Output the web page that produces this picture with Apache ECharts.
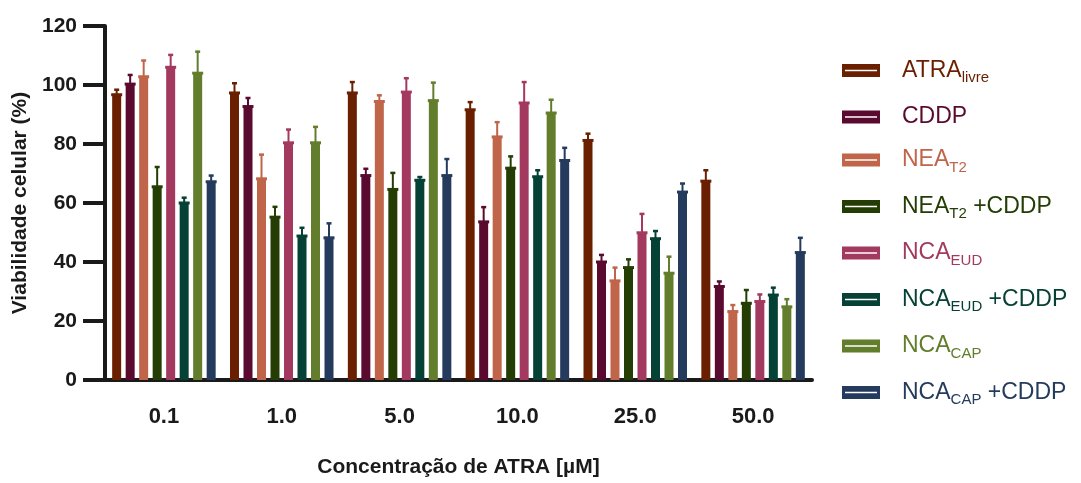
<!DOCTYPE html>
<html>
<head>
<meta charset="utf-8">
<script src="https://cdn.jsdelivr.net/npm/echarts@6/dist/echarts.min.js"></script>
<style>
  html, body { margin: 0; padding: 0; background: #fff; }
  #main { width: 1081px; height: 483px; }
</style>
</head>
<body>
<div id="main"></div>
<script>
var categories = ['0.1', '1.0', '5.0', '10.0', '25.0', '50.0'];

// legend text split in main / subscript / tail
var legendMain = ['ATRA', 'CDDP', 'NEA', 'NEA', 'NCA', 'NCA', 'NCA', 'NCA'];
var legendSub = ['livre', '', 'T2', 'T2', 'EUD', 'EUD', 'CAP', 'CAP'];
var legendTail = ['', '', '', ' +CDDP', '', ' +CDDP', '', ' +CDDP'];
var colors = ['#6a1f00', '#5a0a2f', '#c0654a', '#243d05', '#a3395f', '#064135', '#627d2c', '#253b5d'];

// mean viability (%)
var atraLivre = [96.7, 97.3, 97.3, 91.6, 81.2, 67.4];
var cddp = [100.3, 92.7, 69.3, 53.6, 40.0, 31.7];
var neaT2 = [102.8, 68.2, 94.4, 82.4, 33.6, 23.2];
var neaT2Cddp = [65.5, 55.2, 64.6, 71.8, 38.1, 26.0];
var ncaEud = [106.0, 80.4, 97.6, 93.9, 49.9, 26.6];
var ncaEudCddp = [60.0, 48.8, 67.7, 68.9, 47.9, 28.8];
var ncaCap = [104.0, 80.4, 94.7, 90.5, 36.2, 24.8];
var ncaCapCddp = [67.2, 48.2, 69.3, 74.4, 63.7, 43.2];

// upper error (sd)
var atraLivreErr = [1.7, 3.3, 3.7, 2.6, 2.3, 3.7];
var cddpErr = [3.1, 2.9, 2.3, 5.0, 2.4, 1.7];
var neaT2Err = [5.5, 8.2, 2.1, 5.0, 4.5, 2.2];
var neaT2CddpErr = [6.7, 3.5, 5.6, 4.0, 2.8, 4.5];
var ncaEudErr = [4.2, 4.5, 4.7, 7.1, 6.4, 2.4];
var ncaEudCddpErr = [1.8, 2.8, 1.1, 2.2, 2.6, 2.5];
var ncaCapErr = [7.3, 5.4, 6.1, 4.5, 5.6, 2.6];
var ncaCapCddpErr = [2.1, 4.9, 5.6, 4.3, 2.9, 5.0];

var means = [atraLivre, cddp, neaT2, neaT2Cddp, ncaEud, ncaEudCddp, ncaCap, ncaCapCddp];
var errs = [atraLivreErr, cddpErr, neaT2Err, neaT2CddpErr, ncaEudErr, ncaEudCddpErr, ncaCapErr, ncaCapCddpErr];

var FONT = 'Liberation Sans, Arial, sans-serif';
var BAR_W = 9;
var BAR_STEP = 13.5;

var names = legendMain.map(function (m, i) { return m + legendSub[i] + legendTail[i]; });

var myChart = echarts.init(document.getElementById('main'));

function errorRender(seriesIdx) {
  return function (params, api) {
    var base = api.coord([api.value(0), api.value(1)]);
    var top = api.coord([api.value(0), api.value(2)]);
    var x = base[0] + (seriesIdx - 3.5) * BAR_STEP;
    var style = { stroke: colors[seriesIdx], lineWidth: 2 };
    return {
      type: 'group',
      children: [
        { type: 'line', shape: { x1: x, y1: base[1], x2: x, y2: top[1] }, style: style },
        { type: 'line', shape: { x1: x - 2.5, y1: top[1], x2: x + 2.5, y2: top[1] }, style: { stroke: colors[seriesIdx], lineWidth: 2.5 } },
        { type: 'line', shape: { x1: x - 5.5, y1: base[1], x2: x + 5.5, y2: base[1] }, style: { stroke: colors[seriesIdx], lineWidth: 3 } }
      ]
    };
  };
}

var series = [];
names.forEach(function (name, i) {
  series.push({
    name: name,
    type: 'bar',
    barWidth: BAR_W,
    barGap: '50%',
    itemStyle: { color: colors[i] },
    data: means[i],
    z: 2
  });
});
names.forEach(function (name, i) {
  series.push({
    name: name,
    type: 'custom',
    renderItem: errorRender(i),
    z: 3,
    data: means[i].map(function (v, j) { return [j, v, v + errs[i][j]]; })
  });
});

var legendData = names.map(function (name, i) {
  return {
    name: name,
    itemStyle: { color: colors[i] },
    textStyle: {
      color: colors[i],
      rich: {
        m: { fontSize: 23, color: colors[i], fontFamily: FONT, lineHeight: 30 },
        s: { fontSize: 15, color: colors[i], fontFamily: FONT, verticalAlign: 'bottom', lineHeight: 30 },
        g: { width: 17 }
      }
    }
  };
});

var option = {
  animation: false,
  color: colors,
  grid: { left: 105, right: 269, top: 26, bottom: 102, containLabel: false },
  legend: {
    orient: 'vertical',
    left: 837,
    top: 54,
    itemWidth: 38,
    itemHeight: 13,
    itemGap: 20,
    icon: 'path://M0,0L38,0L38,13L0,13Z M3,5.8L3,7.2L35,7.2L35,5.8Z',
    selectedMode: false,
    data: legendData,
    formatter: function (name) {
      var i = names.indexOf(name);
      var s = '{g|}{m|' + legendMain[i] + '}';
      if (legendSub[i]) s += '{s|' + legendSub[i] + '}';
      if (legendTail[i]) s += '{m|' + legendTail[i] + '}';
      return s;
    }
  },
  xAxis: {
    type: 'category',
    data: categories,
    name: 'Concentração de ATRA [µM]',
    nameLocation: 'middle',
    nameGap: 77,
    nameTextStyle: { fontFamily: FONT, fontWeight: 'bold', fontSize: 21, color: '#1a1a1a' },
    axisLine: { lineStyle: { color: '#1a1a1a', width: 4 } },
    axisTick: { alignWithLabel: true, length: 14, lineStyle: { color: '#1a1a1a', width: 4 } },
    axisLabel: { margin: 26, fontFamily: FONT, fontWeight: 'bold', fontSize: 22, color: '#1a1a1a' },
    splitLine: { show: false }
  },
  yAxis: {
    type: 'value',
    min: 0,
    max: 120,
    interval: 20,
    name: 'Viabilidade celular (%)',
    nameLocation: 'middle',
    nameGap: 66,
    nameTextStyle: { fontFamily: FONT, fontWeight: 'bold', fontSize: 21, color: '#1a1a1a' },
    axisLine: { show: true, lineStyle: { color: '#1a1a1a', width: 4 } },
    axisTick: { show: true, length: 22, lineStyle: { color: '#1a1a1a', width: 4 } },
    axisLabel: { margin: 28, fontFamily: FONT, fontWeight: 'bold', fontSize: 21, color: '#1a1a1a' },
    splitLine: { show: false }
  },
  series: series
};

myChart.setOption(option);
</script>
</body>
</html>
